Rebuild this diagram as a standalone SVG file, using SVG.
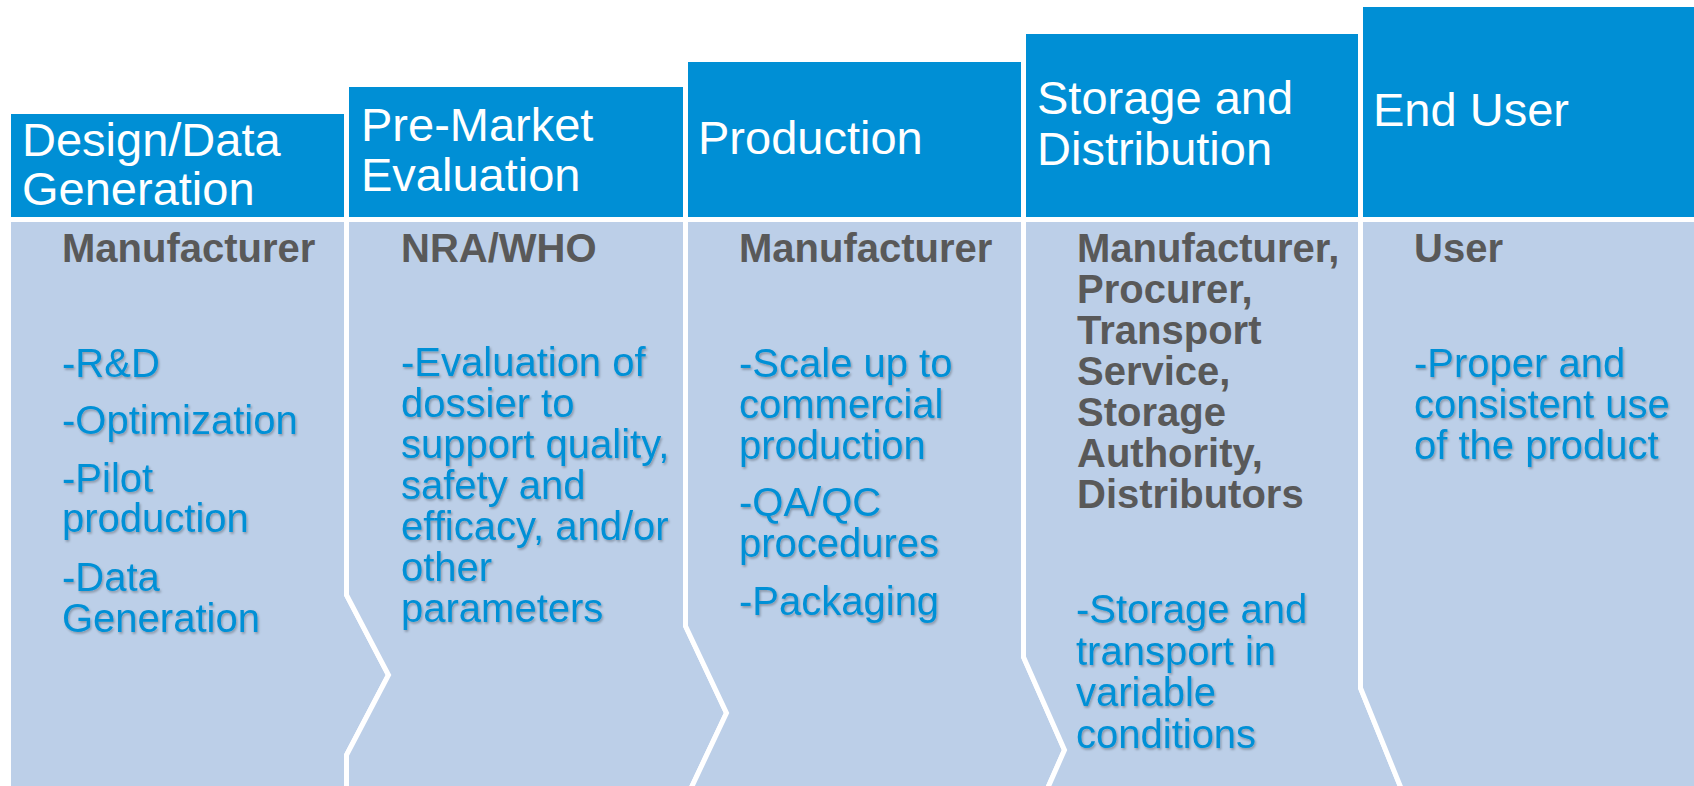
<svg xmlns="http://www.w3.org/2000/svg" width="1694" height="786" viewBox="0 0 1694 786">
  <defs>
    <filter id="shadow" x="-5%" y="-20%" width="115%" height="150%">
      <feDropShadow dx="1.2" dy="1.8" stdDeviation="1" flood-color="#000" flood-opacity="0.28"/>
    </filter>
  </defs>
  <style>
    .hdr { fill: #008FD5; }
    .body { fill: #BCCFE8; stroke: #FFFFFF; stroke-width: 5; stroke-linejoin: miter; }
    .ht { font-family: "Liberation Sans", Arial, sans-serif; font-size: 47px; fill: #FFFFFF; }
    .who { font-family: "Liberation Sans", Arial, sans-serif; font-size: 40px; font-weight: bold; fill: #595959; }
    .act { font-family: "Liberation Sans", Arial, sans-serif; font-size: 40px; fill: #0090D6; filter: url(#shadow); }
  </style>
  <rect width="1694" height="786" fill="#FFFFFF"/>

  <g id="col1">
    <rect class="hdr" x="11" y="114" width="333" height="103"/>
    <polygon class="body" points="8.5,219.5 346.5,219.5 346.5,595 388.5,675 346.5,755 346.5,900 8.5,900"/>
    <text class="ht" x="22" y="156">Design/Data</text>
    <text class="ht" x="22" y="205">Generation</text>
    <text class="who" x="62" y="262">Manufacturer</text>
    <text class="act" x="62" y="377">-R&amp;D</text>
    <text class="act" x="62" y="434">-Optimization</text>
    <text class="act" x="62" y="492">-Pilot</text>
    <text class="act" x="62" y="532">production</text>
    <text class="act" x="62" y="591">-Data</text>
    <text class="act" x="62" y="632">Generation</text>
  </g>

  <g id="col2">
    <rect class="hdr" x="349" y="87" width="334" height="130"/>
    <polygon class="body" points="346.5,219.5 685.5,219.5 685.5,626 726.5,713 685.5,800 685.5,900 346.5,900 346.5,755 388.5,675 346.5,595"/>
    <text class="ht" x="361" y="141">Pre-Market</text>
    <text class="ht" x="361" y="191">Evaluation</text>
    <text class="who" x="401" y="262">NRA/WHO</text>
    <text class="act" x="401" y="376">-Evaluation of</text>
    <text class="act" x="401" y="417">dossier to</text>
    <text class="act" x="401" y="458">support quality,</text>
    <text class="act" x="401" y="499">safety and</text>
    <text class="act" x="401" y="540">efficacy, and/or</text>
    <text class="act" x="401" y="581">other</text>
    <text class="act" x="401" y="622">parameters</text>
  </g>

  <g id="col3">
    <rect class="hdr" x="688" y="62" width="333" height="155"/>
    <polygon class="body" points="685.5,219.5 1023.5,219.5 1023.5,657 1064.5,750 1023.5,843 1023.5,900 685.5,900 685.5,800 726.5,713 685.5,626"/>
    <text class="ht" x="698" y="154">Production</text>
    <text class="who" x="739" y="262">Manufacturer</text>
    <text class="act" x="739" y="377">-Scale up to</text>
    <text class="act" x="739" y="418">commercial</text>
    <text class="act" x="739" y="459">production</text>
    <text class="act" x="739" y="516">-QA/QC</text>
    <text class="act" x="739" y="557">procedures</text>
    <text class="act" x="739" y="615">-Packaging</text>
  </g>

  <g id="col4">
    <rect class="hdr" x="1026" y="34" width="332" height="183"/>
    <polygon class="body" points="1023.5,219.5 1360.5,219.5 1360.5,688 1401,788 1360.5,888 1360.5,950 1023.5,950 1023.5,843 1064.5,750 1023.5,657"/>
    <text class="ht" x="1037" y="114">Storage and</text>
    <text class="ht" x="1037" y="165">Distribution</text>
    <text class="who" x="1077" y="262">Manufacturer,</text>
    <text class="who" x="1077" y="303">Procurer,</text>
    <text class="who" x="1077" y="344">Transport</text>
    <text class="who" x="1077" y="385">Service,</text>
    <text class="who" x="1077" y="426">Storage</text>
    <text class="who" x="1077" y="467">Authority,</text>
    <text class="who" x="1077" y="508">Distributors</text>
    <text class="act" x="1076" y="623">-Storage and</text>
    <text class="act" x="1076" y="665">transport in</text>
    <text class="act" x="1076" y="706">variable</text>
    <text class="act" x="1076" y="748">conditions</text>
  </g>

  <g id="col5">
    <rect class="hdr" x="1363" y="7" width="331" height="210"/>
    <polygon class="body" points="1360.5,219.5 1710,219.5 1710,950 1360.5,950 1360.5,888 1401,788 1360.5,688"/>
    <text class="ht" x="1373" y="126">End User</text>
    <text class="who" x="1414" y="262">User</text>
    <text class="act" x="1414" y="377">-Proper and</text>
    <text class="act" x="1414" y="418">consistent use</text>
    <text class="act" x="1414" y="459">of the product</text>
  </g>

  <g id="connectors"></g>
</svg>
